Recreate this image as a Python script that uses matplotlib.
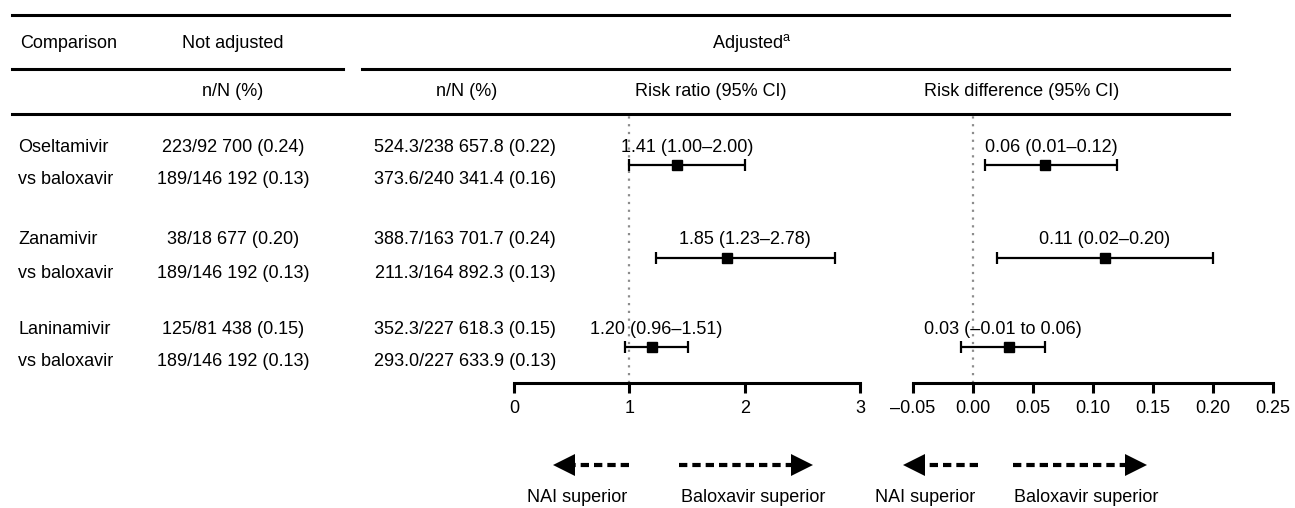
import numpy as np
import matplotlib
matplotlib.use("Agg")
import matplotlib.pyplot as plt

plt.rcParams["font.family"] = ["Liberation Sans", "DejaVu Sans"]
plt.rcParams["mathtext.fontset"] = "custom"
plt.rcParams["mathtext.rm"] = "Liberation Sans"

# table data
drugs = ["Oseltamivir", "Zanamivir", "Laninamivir"]
crude_nai = ["223/92 700 (0.24)", "38/18 677 (0.20)", "125/81 438 (0.15)"]
crude_bxm = ["189/146 192 (0.13)", "189/146 192 (0.13)", "189/146 192 (0.13)"]
adj_nai = ["524.3/238 657.8 (0.22)", "388.7/163 701.7 (0.24)", "352.3/227 618.3 (0.15)"]
adj_bxm = ["373.6/240 341.4 (0.16)", "211.3/164 892.3 (0.13)", "293.0/227 633.9 (0.13)"]

# forest data
rr_est = [1.41, 1.85, 1.20]
rr_lo = [1.00, 1.23, 0.96]
rr_hi = [2.00, 2.78, 1.51]
rd_est = [0.06, 0.11, 0.03]
rd_lo = [0.01, 0.02, -0.01]
rd_hi = [0.12, 0.20, 0.06]

rr_ticks = [0, 1, 2, 3]
rd_ticks = [-0.05, 0.00, 0.05, 0.10, 0.15, 0.20, 0.25]

W, H = 1295, 508
FS = 13
GROUP_Y = [147, 240, 329]
ROW_GAP = 33
POINT_OFF = 18


def fmt_ci(e, lo, hi):
    if lo < 0:
        return "{:.2f} (\u2013{:.2f} to {:.2f})".format(e, abs(lo), hi)
    return "{:.2f} ({:.2f}\u2013{:.2f})".format(e, lo, hi)


def fmt_tick(v, nd):
    s = "{:.{}f}".format(abs(v), nd)
    return ("\u2013" + s) if v < 0 else s


def dashed_arrow(ax, x_tail, x_tip, y):
    direction = np.sign(x_tip - x_tail)
    head_len, head_half = 22, 11
    base = x_tip - direction * head_len
    ax.plot([x_tail, base], [y, y], color="black", lw=3,
            linestyle=(0, (2.0, 1.2)), solid_capstyle="butt")
    ax.fill([base, x_tip, base], [y - head_half, y, y + head_half],
            color="black", lw=0)


fig = plt.figure(figsize=(W / 100, H / 100), dpi=100)

bg = fig.add_axes([0, 0, 1, 1])
bg.set_xlim(0, W)
bg.set_ylim(H, 0)
bg.axis("off")

# rules
bg.plot([12, 1229], [15, 15], color="black", lw=2.2)
bg.plot([12, 343], [69, 69], color="black", lw=2.2)
bg.plot([362, 1229], [69, 69], color="black", lw=2.2)
bg.plot([12, 1229], [114, 114], color="black", lw=2.2)

# headers
bg.text(20, 43, "Comparison", fontsize=FS, va="center", ha="left")
bg.text(233, 43, "Not adjusted", fontsize=FS, va="center", ha="center")
bg.text(752, 43, "Adjusted$^{\\mathrm{a}}$", fontsize=FS, va="center", ha="center")
bg.text(233, 92, "n/N (%)", fontsize=FS, va="center", ha="center")
bg.text(467, 92, "n/N (%)", fontsize=FS, va="center", ha="center")
bg.text(711, 92, "Risk ratio (95% CI)", fontsize=FS, va="center", ha="center")
bg.text(1022, 92, "Risk difference (95% CI)", fontsize=FS, va="center", ha="center")

# table body
for i, y in enumerate(GROUP_Y):
    y2 = y + ROW_GAP
    bg.text(18, y, drugs[i], fontsize=FS, va="center", ha="left")
    bg.text(18, y2, "vs baloxavir", fontsize=FS, va="center", ha="left")
    bg.text(233, y, crude_nai[i], fontsize=FS, va="center", ha="center")
    bg.text(233, y2, crude_bxm[i], fontsize=FS, va="center", ha="center")
    bg.text(465, y, adj_nai[i], fontsize=FS, va="center", ha="center")
    bg.text(465, y2, adj_bxm[i], fontsize=FS, va="center", ha="center")


def forest(x0, x1, xlim, ticks, ticklabels, ref, est, lo, hi):
    ax = fig.add_axes([x0 / W, 1 - 383 / H, (x1 - x0) / W, (383 - 114) / H])
    ax.set_facecolor("none")
    ax.set_xlim(*xlim)
    ax.set_ylim(383, 114)
    for s in ["top", "left", "right"]:
        ax.spines[s].set_visible(False)
    ax.spines["bottom"].set_linewidth(2.2)
    ax.set_yticks([])
    ax.set_xticks(ticks)
    ax.set_xticklabels(ticklabels)
    ax.tick_params(axis="x", direction="out", length=7.5, width=2.2,
                   labelsize=FS, pad=5)
    ax.axvline(ref, color="#8c8c8c", lw=1.6, linestyle=(0, (1, 2.5)))
    est = np.array(est)
    lo = np.array(lo)
    hi = np.array(hi)
    ys = np.array(GROUP_Y) + POINT_OFF
    ax.errorbar(est, ys, xerr=[est - lo, hi - est], fmt="s", color="black",
                ms=7.5, capsize=4, elinewidth=1.6, capthick=1.6)
    for e, l, h, y in zip(est, lo, hi, GROUP_Y):
        ax.text((l + h) / 2, y, fmt_ci(e, l, h), fontsize=FS,
                ha="center", va="center")
    return ax


forest(514, 860, (0, 3), rr_ticks, [str(t) for t in rr_ticks], 1,
       rr_est, rr_lo, rr_hi)
forest(913, 1273, (-0.05, 0.25), rd_ticks, [fmt_tick(t, 2) for t in rd_ticks], 0,
       rd_est, rd_lo, rd_hi)

# direction arrows
ARROW_Y = 465
dashed_arrow(bg, 629, 553, ARROW_Y)
dashed_arrow(bg, 679, 813, ARROW_Y)
dashed_arrow(bg, 978, 903, ARROW_Y)
dashed_arrow(bg, 1013, 1147, ARROW_Y)
bg.text(577, 498, "NAI superior", fontsize=FS, ha="center", va="center")
bg.text(753, 498, "Baloxavir superior", fontsize=FS, ha="center", va="center")
bg.text(925, 498, "NAI superior", fontsize=FS, ha="center", va="center")
bg.text(1086, 498, "Baloxavir superior", fontsize=FS, ha="center", va="center")

fig.savefig("out.png", dpi=100)
